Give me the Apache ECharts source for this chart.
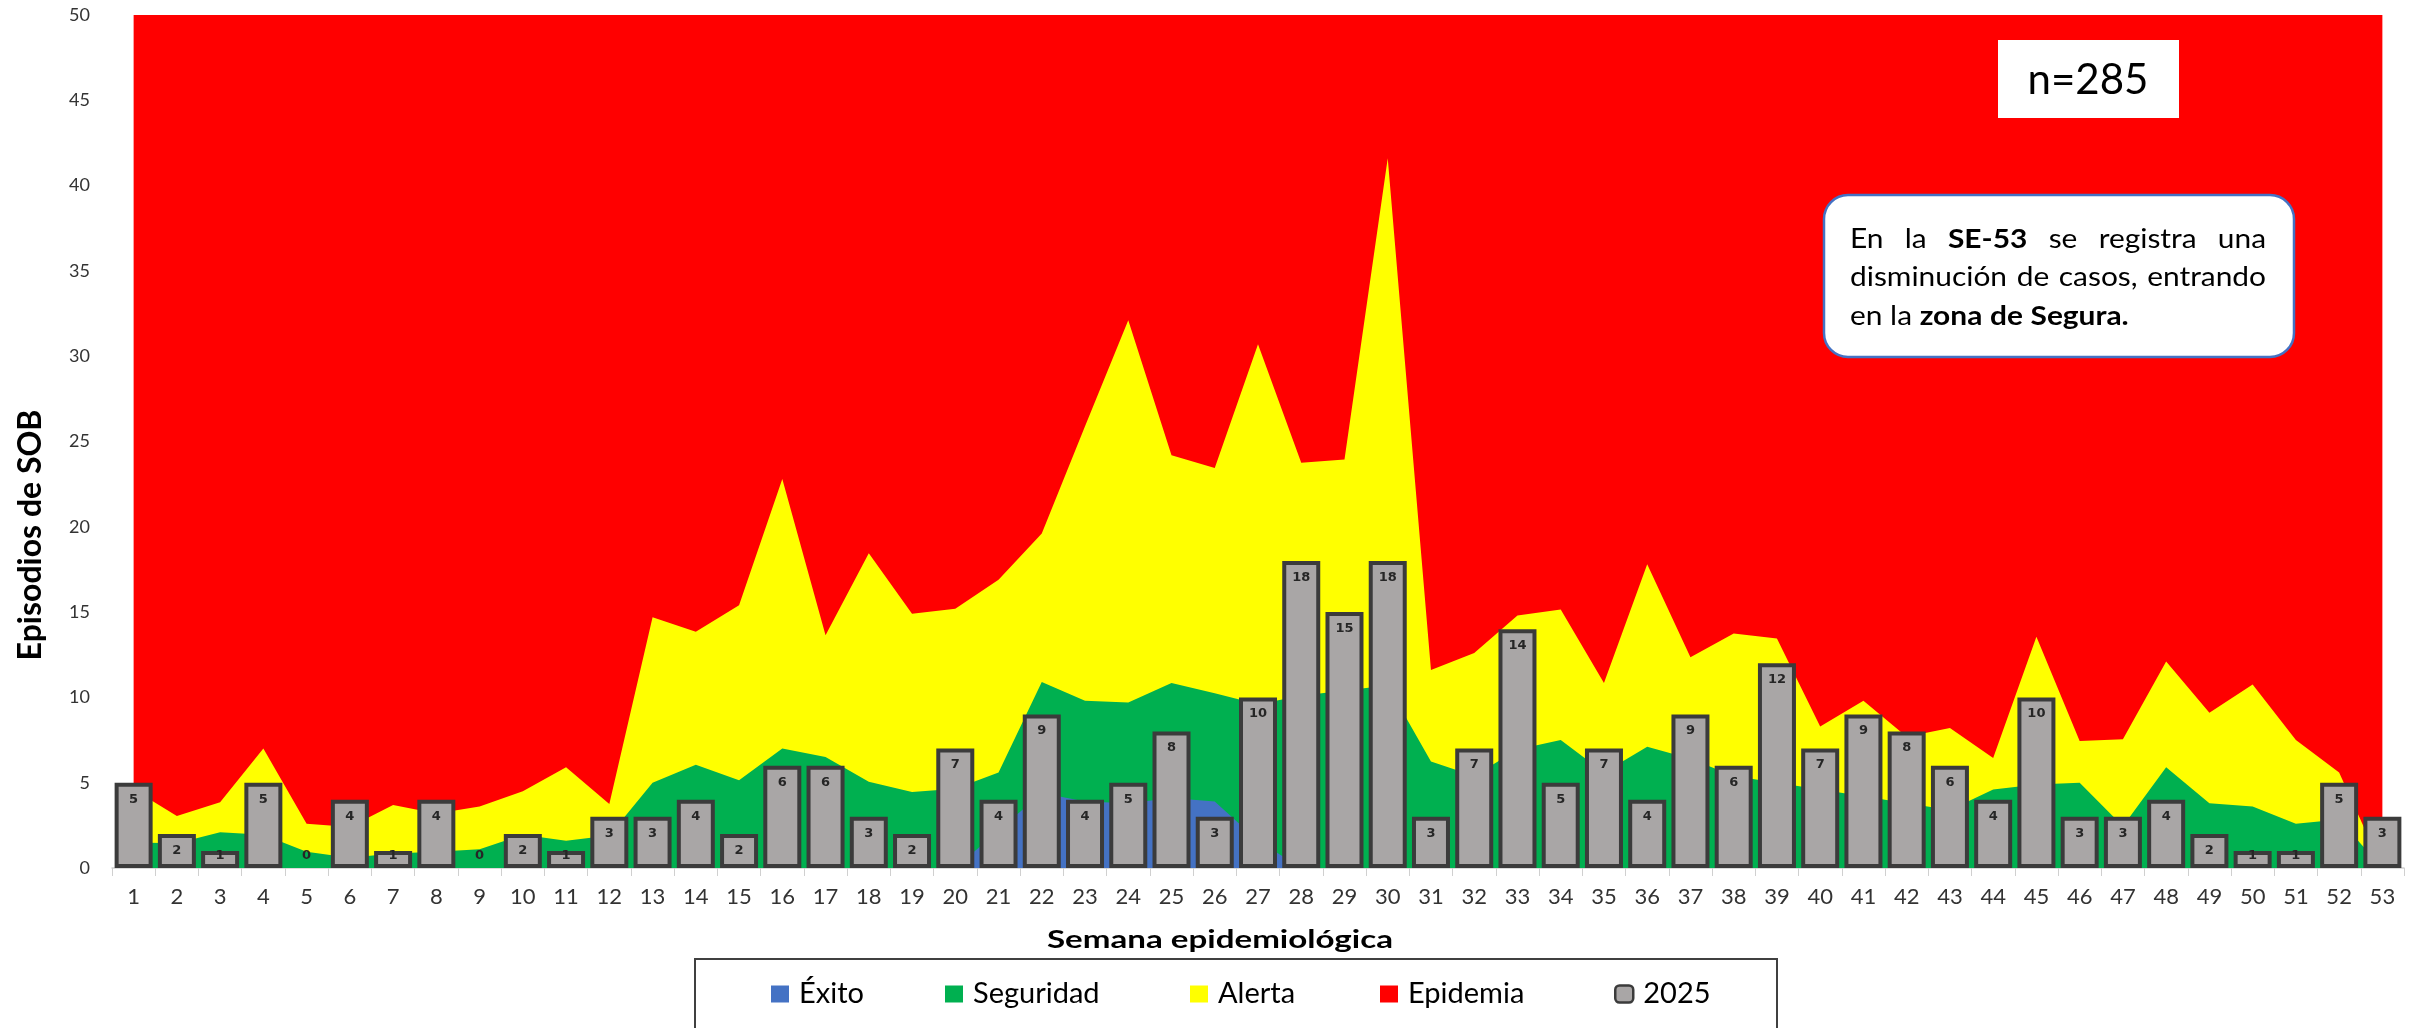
<!DOCTYPE html>
<html>
<head>
<meta charset="utf-8">
<script src="https://cdn.jsdelivr.net/npm/echarts@6/dist/echarts.min.js"></script>
<style>
html,body{margin:0;padding:0;background:#ffffff;}
#chart{width:2418px;height:1028px;}
</style>
</head>
<body>
<div id="chart"></div>
<script>
// ---------------- DATA ----------------
const weeks = ['1','2','3','4','5','6','7','8','9','10','11','12','13','14','15','16','17','18','19','20',
  '21','22','23','24','25','26','27','28','29','30','31','32','33','34','35','36','37','38','39','40',
  '41','42','43','44','45','46','47','48','49','50','51','52','53'];

// upper limit of each zone
const exito = [0,0,0,0,0,0,0,0,0,0, 0,0,0,0,0,0,0,0,0,0,
  2.2,4.4,3.9,3.8,4.1,3.9,1.6,0,0,0, 0,0,0,0,0,0,0,0,0,0,
  0,0,0,0,0,0,0,0,0,0, 0,0,0];
const seguridad = [1.5,1.45,2.1,1.95,0.95,0.6,0.85,0.95,1.1,1.95,
  1.6,1.9,5.0,6.05,5.15,7.0,6.5,5.05,4.45,4.65,
  5.6,10.9,9.8,9.7,10.85,10.25,9.6,10.1,10.4,10.7,
  6.25,5.4,6.95,7.5,5.6,7.1,6.4,5.4,5.0,4.6,
  4.2,3.8,3.4,4.6,4.9,5.0,2.45,5.9,3.8,3.6,
  2.6,2.85,0];
const alerta = [4.6,3.05,3.85,7.0,2.6,2.4,3.7,3.2,3.6,4.5,
  5.9,3.75,14.7,13.85,15.4,22.8,13.65,18.45,14.9,15.2,
  16.9,19.6,25.9,32.1,24.2,23.45,30.7,23.75,23.95,41.6,
  11.6,12.6,14.8,15.15,10.85,17.8,12.35,13.75,13.45,8.3,
  9.8,7.7,8.2,6.45,13.55,7.45,7.55,12.1,9.1,10.75,
  7.5,5.6,0];
const epidemia = [50,50,50,50,50,50,50,50,50,50, 50,50,50,50,50,50,50,50,50,50,
  50,50,50,50,50,50,50,50,50,50, 50,50,50,50,50,50,50,50,50,50,
  50,50,50,50,50,50,50,50,50,50, 50,50,50];
const casos2025 = [5,2,1,5,0,4,1,4,0,2, 1,3,3,4,2,6,6,3,2,7,
  4,9,4,5,8,3,10,18,15,18, 3,7,14,5,7,4,9,6,12,7,
  9,8,6,4,10,3,3,4,2,1, 1,5,3];

const yMin = 0, yMax = 50, yStep = 5;
const legendNames = ['Éxito', 'Seguridad', 'Alerta', 'Epidemia', '2025'];
const totalLabel = 'n=285';
const yTitle = 'Episodios de SOB';
const xTitle = 'Semana epidemiológica';

// ---------------- TEXT HELPERS ----------------
const ctx = document.createElement('canvas').getContext('2d');
function measure(text, size, weight) {
  ctx.font = (weight || 'normal') + ' ' + size + 'px Lato';
  return ctx.measureText(text).width;
}

// annotation note (justified like the original)
const noteSize = 26;
const noteLines = [
  {justify: true, words: [['En',0],['la',0],['SE-53',1],['se',0],['registra',0],['una',0]]},
  {justify: true, words: [['disminución',0],['de',0],['casos,',0],['entrando',0]]},
  {justify: false, words: [['en',0],['la',0],['zona',1],['de',1],['Segura.',1]]}
];
const noteLeft = 1850, noteWidth = 416, noteYs = [240, 278, 317];
const spaceW = measure(' ', noteSize, 'normal');
function wordW(w) { return measure(w[0], noteSize, w[1] ? 'bold' : 'normal'); }
const line2Natural = noteLines[1].words.reduce((s, w) => s + wordW(w), 0) + spaceW * 3;
const noteSX = 410 / line2Natural;

const noteElems = [];
noteLines.forEach((ln, li) => {
  const ws = ln.words.map(w => wordW(w) * noteSX);
  const sum = ws.reduce((a, b) => a + b, 0);
  const gap = ln.justify ? (noteWidth - sum) / (ln.words.length - 1) : spaceW * noteSX;
  let x = noteLeft;
  ln.words.forEach((w, i) => {
    noteElems.push({
      type: 'text', x: x, y: noteYs[li], scaleX: noteSX, z: 101,
      style: {text: w[0], fontFamily: 'Lato', fontSize: noteSize, fontWeight: w[1] ? 'bold' : 'normal',
        fill: '#000', align: 'left', verticalAlign: 'middle'}
    });
    x += ws[i] + gap;
  });
});

const xTitleSX = 346 / measure(xTitle, 25, 'bold');

// one legend key per slot, placed where each key sits in the original
const legendLefts = [771, 945, 1190, 1380, 1614];
const legends = legendNames.map((n, i) => ({
  data: [i < 4 ? {name: n, icon: 'rect'}
               : {name: n, icon: 'roundRect', itemStyle: {borderWidth: 2.5, borderColor: '#3b3b3b'}}],
  left: legendLefts[i], top: 979, padding: 0,
  itemWidth: 18, itemHeight: 17, selectedMode: false,
  textStyle: {fontFamily: 'Lato', fontSize: 29, lineHeight: 30, color: '#000', padding: [0, 0, 0, 5]}
}));

// ---------------- CHART ----------------
const chart = echarts.init(document.getElementById('chart'), null, {renderer: 'canvas'});

function zone(name, data, color) {
  return {
    name: name, type: 'line', data: data, color: color,
    symbol: 'none', showSymbol: false, silent: true,
    lineStyle: {width: 0, color: color},
    itemStyle: {color: color},
    areaStyle: {color: color, opacity: 1},
    z: 2
  };
}

const option = {
  animation: false,
  backgroundColor: '#ffffff',
  grid: {left: 112, right: 14, top: 15, bottom: 160, containLabel: false},
  xAxis: {
    type: 'category', data: weeks, boundaryGap: true,
    axisLine: {show: true, lineStyle: {color: '#d0d0d0', width: 1.5}},
    axisTick: {show: true, length: 8, lineStyle: {color: '#d0d0d0', width: 1}},
    axisLabel: {interval: 0, fontFamily: 'Lato', fontSize: 22, color: '#333333', margin: 18},
    splitLine: {show: false}
  },
  yAxis: {
    type: 'value', min: yMin, max: yMax, interval: yStep,
    axisLine: {show: false}, axisTick: {show: false}, splitLine: {show: false},
    axisLabel: {fontFamily: 'Lato', fontSize: 18, color: '#333333', margin: 22}
  },
  legend: legends,
  graphic: [
    {type: 'rect', z: 100, shape: {x: 695, y: 959, width: 1082, height: 120},
      style: {fill: null, stroke: '#404040', lineWidth: 2}},
    {type: 'text', x: 31, y: 535, rotation: Math.PI / 2, z: 100,
      style: {text: yTitle, fontFamily: 'Lato', fontSize: 32, fontWeight: 'bold', fill: '#000',
        align: 'center', verticalAlign: 'middle'}},
    {type: 'text', x: 1220, y: 940, scaleX: xTitleSX, z: 100,
      style: {text: xTitle, fontFamily: 'Lato', fontSize: 25, fontWeight: 'bold', fill: '#000',
        align: 'center', verticalAlign: 'middle'}},
    {type: 'rect', z: 100, shape: {x: 1998, y: 40, width: 181, height: 78},
      style: {fill: '#ffffff', stroke: null}},
    {type: 'text', x: 2088, y: 80, z: 101,
      style: {text: totalLabel, fontFamily: 'Lato', fontSize: 42, fill: '#000',
        align: 'center', verticalAlign: 'middle'}},
    {type: 'rect', z: 100, shape: {x: 1824, y: 195, width: 470, height: 162, r: 24},
      style: {fill: '#ffffff', stroke: '#4472c4', lineWidth: 2.5}}
  ].concat(noteElems),
  series: [
    zone('Epidemia', epidemia, '#ff0000'),
    zone('Alerta', alerta, '#ffff00'),
    zone('Seguridad', seguridad, '#00b050'),
    zone('Éxito', exito, '#4472c4'),
    {
      name: '2025', type: 'bar', z: 5, barWidth: 38, silent: true,
      data: casos2025.map(v => v >= 2 ? v : {
        value: v,
        itemStyle: v === 0 ? {borderWidth: 0} : undefined,
        label: {position: 'insideBottom', distance: 6}
      }),
      itemStyle: {color: '#a9a6a6', borderColor: '#3b3b3b', borderWidth: 4},
      label: {show: true, position: 'insideTop', distance: 10, fontFamily: 'DejaVu Sans',
        fontWeight: 'bold', fontSize: 13, color: '#262626'}
    }
  ]
};
chart.setOption(option);
</script>
</body>
</html>
